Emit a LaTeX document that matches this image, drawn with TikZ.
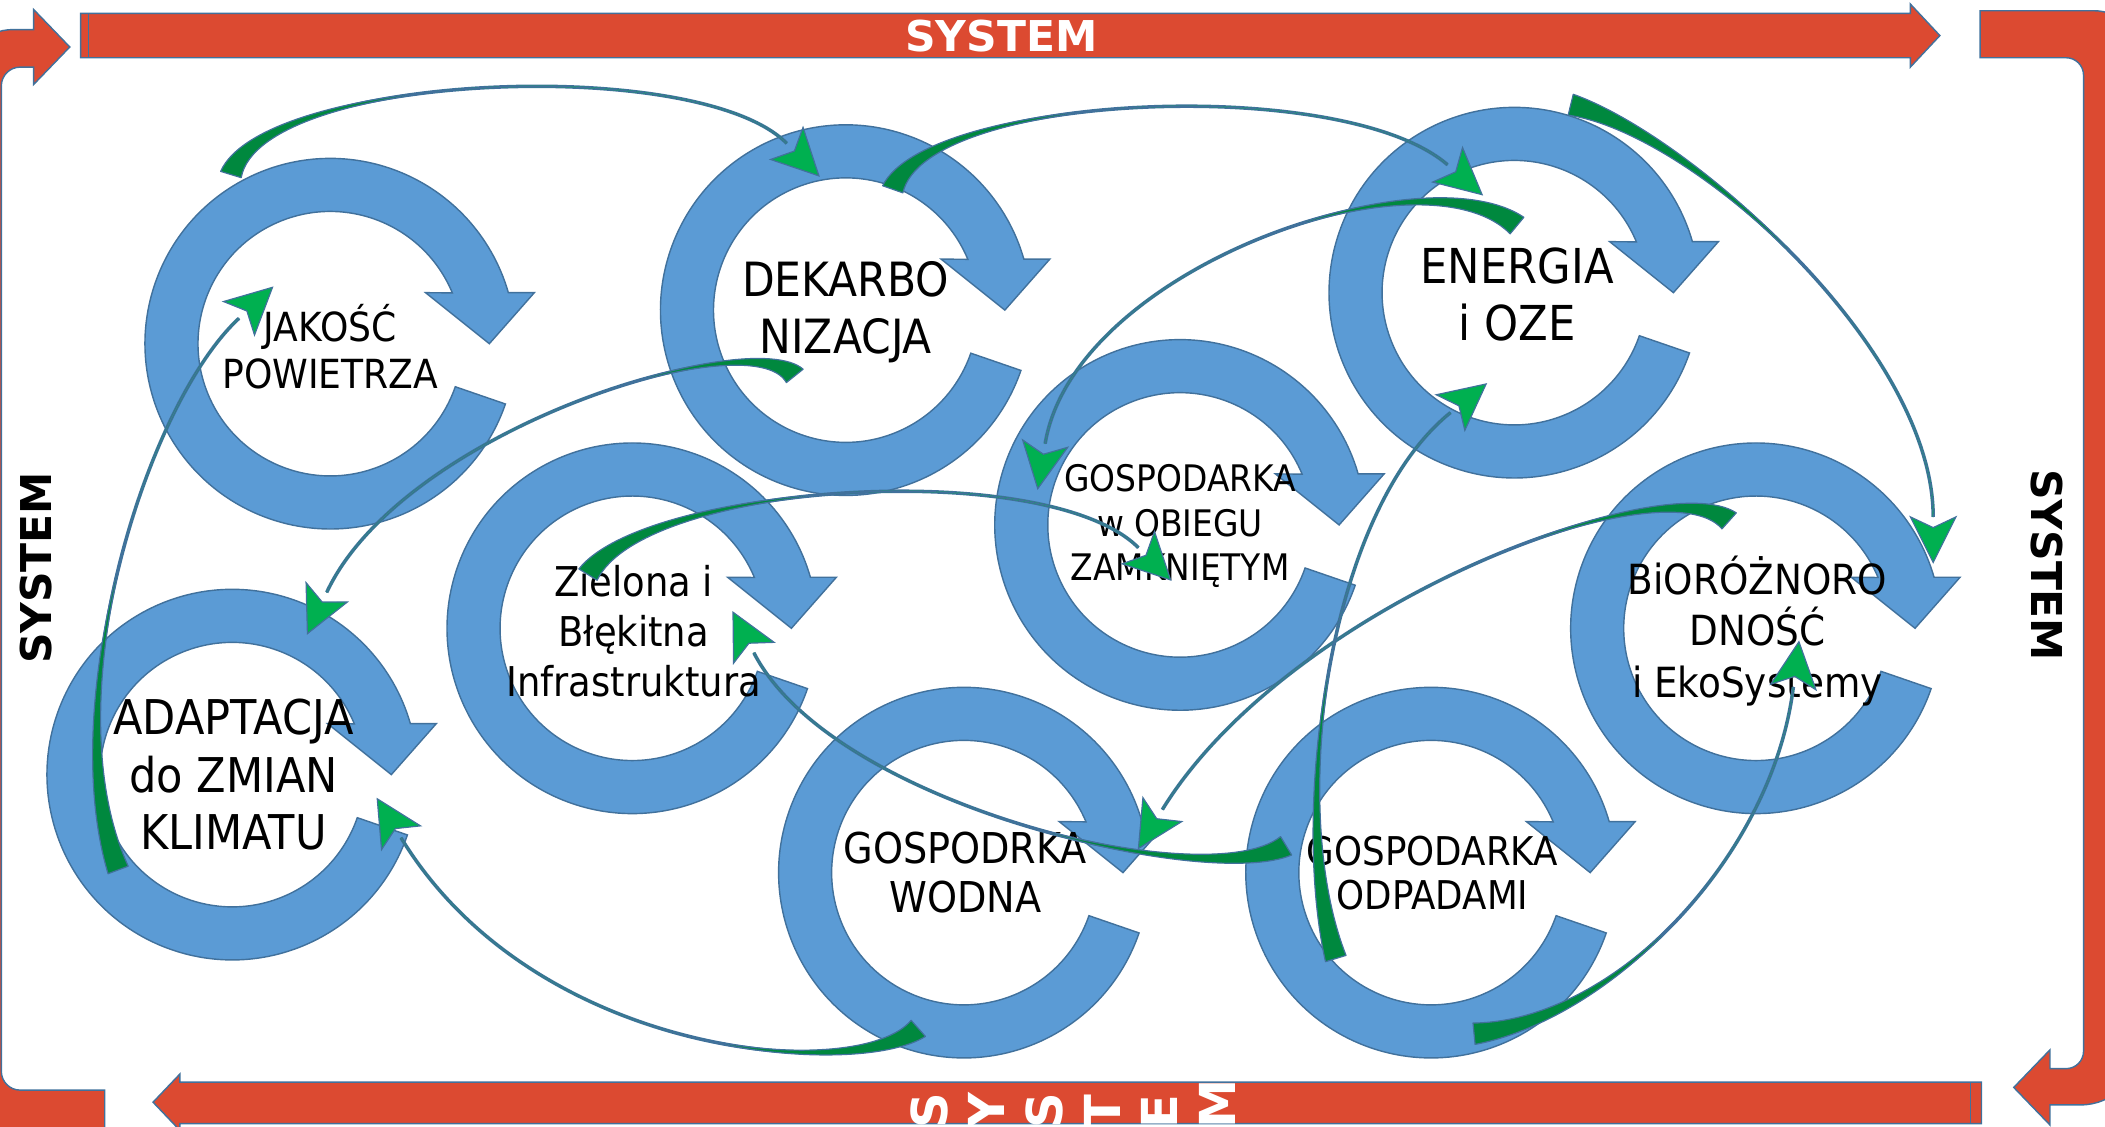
\documentclass[tikz,border=0pt]{standalone}
\usepackage{fontspec}
\setmainfont{DejaVu Sans}
\newfontfamily\labelfont{DejaVu Sans}[FakeStretch=0.9]
\usetikzlibrary{calc}

\definecolor{ringblue}{RGB}{91,155,213}
\definecolor{edgeblue}{RGB}{65,113,156}
\definecolor{sysred}{RGB}{220,74,49}
\definecolor{leaf}{RGB}{0,176,80}
\definecolor{leafdark}{RGB}{0,136,62}

\tikzset{
	ring/.style={fill=ringblue, draw=edgeblue, line width=0.6pt},
	band/.style={fill=sysred, draw=edgeblue, line width=0.6pt},
	ringtext/.style={align=center, inner sep=0pt},
	systext/.style={font=\bfseries\fontsize{18}{20}\selectfont, inner sep=0pt},
	linkband/.style={fill=leafdark, draw=edgeblue, line width=0.5pt, line join=round},
	linkhead/.style={fill=leaf, draw=edgeblue, line width=0.5pt},
}

% circular arrow round a centre
\newcommand{\cyclering}[1]{%
	\draw[ring, shift={(#1)}] (19:138) arc[start angle=19, end angle=344, radius=138]
		-- (152,-38) -- (118.5,0) -- (71,-38) -- (337.4:98.5)
		arc[start angle=337.4, end angle=19, radius=98.5] -- cycle;
}

% green link: name, tail, control 1, control 2, tip
\newcommand{\linkarrow}[5]{%
	\coordinate (#1e) at ($(#5)!6.8mm!(#4)$);
	\coordinate (#1a) at ($(#2)!1.6mm!90:(#3)$);
	\coordinate (#1b) at ($(#2)!1.6mm!-90:(#3)$);
	\draw[edgeblue, line width=1.5pt] (#2) .. controls (#3) and (#4) .. (#1e);
	\draw[leaf, line width=0.6pt] (#2) .. controls (#3) and (#4) .. (#1e);
	\draw[linkband] (#1a) .. controls ($(#3)-0.15*(#1a)+0.15*(#2)$) and (#4) .. (#1e)
		.. controls (#4) and ($(#3)-0.15*(#1b)+0.15*(#2)$) .. (#1b) -- cycle;
	\draw[linkhead] (#5) -- ($(#1e)!3.4mm!90:(#5)$) -- ($(#1e)!1.6mm!(#5)$)
		-- ($(#1e)!3.4mm!-90:(#5)$) -- cycle;
}

\begin{document}
\begin{tikzpicture}[x=0.2mm, y=-0.2mm]
	\clip (0,0) rectangle (1568,839);

	% frame
	\draw[band] (60,10) -- (1423,10) -- (1423,3) -- (1445,26.5) -- (1423,50) -- (1423,43) -- (60,43) -- cycle;
	\draw[edgeblue, line width=0.6pt] (66,10) -- (66,43);
	\draw[band] (1476,806) -- (134,806) -- (134,800) -- (114,821) -- (134,842) -- (134,837) -- (1476,837) -- cycle;
	\draw[edgeblue, line width=0.6pt] (1468,806) -- (1468,837);
	\draw[band] (78,812) -- (15,812) arc[start angle=90, end angle=180, radius=14] -- (1,64)
		arc[start angle=180, end angle=270, radius=14] -- (25,50) -- (25,63) -- (52,35) -- (25,7) -- (25,22)
		-- (10,22) arc[start angle=270, end angle=180, radius=40] -- (-30,805)
		arc[start angle=180, end angle=90, radius=40] -- (78,845) -- cycle;
	\draw[band] (1475,8) -- (1560,8) arc[start angle=270, end angle=360, radius=33] -- (1593,780)
		arc[start angle=0, end angle=90, radius=43] -- (1527,823) -- (1527,838) -- (1500,810) -- (1527,782)
		-- (1527,796) -- (1539,796) arc[start angle=90, end angle=0, radius=13] -- (1552,56)
		arc[start angle=0, end angle=-90, radius=13] -- (1475,43) -- cycle;

	\node[systext, text=white] (systop) at (746,27) {SYSTEM};
	\node[systext, rotate=90] (sysleft) at (27,423) {SYSTEM};
	\node[systext, rotate=-90] (sysright) at (1525,421) {SYSTEM};
	\foreach \ch [count=\i] in {S,Y,S,T,E,M}
		\node[systext, font=\bfseries\fontsize{21}{24}\selectfont, text=white, rotate=90, anchor=west]
			(sysbot\i) at ({692+43*(\i-1)},841) {\ch};

	% rings
	\coordinate (jak) at (246,256);
	\coordinate (dek) at (630,231);
	\coordinate (ene) at (1128,218);
	\coordinate (obi) at (879,391);
	\coordinate (zie) at (471,468);
	\coordinate (ada) at (173,577);
	\coordinate (wod) at (718,650);
	\coordinate (odp) at (1066,650);
	\coordinate (bio) at (1308,468);
	\foreach \c in {jak,dek,ene,obi,zie,ada,wod,odp,bio}
		\cyclering{\c};

	\node[ringtext, font=\labelfont\fontsize{17}{19.9}\selectfont] (jak-t) at (246,258.5) {JAKOŚĆ\\POWIETRZA};
	\node[ringtext, font=\labelfont\fontsize{20}{24.4}\selectfont] (dek-t) at (630,232.5) {DEKARBO\\NIZACJA};
	\node[ringtext, font=\labelfont\fontsize{20.4}{24.4}\selectfont] (ene-t) at (1130,219.5) {ENERGIA\\i OZE};
	\node[ringtext, font=\labelfont\fontsize{15.5}{18.8}\selectfont] (obi-t) at (879,392) {GOSPODARKA\\w OBIEGU\\ZAMKNIĘTYM};
	\node[ringtext, font=\labelfont\fontsize{17.4}{21.3}\selectfont] (zie-t) at (472,470) {Zielona i\\Błękitna\\Infrastruktura};
	\node[ringtext, font=\labelfont\fontsize{20.3}{24.2}\selectfont] (ada-t) at (174,577) {ADAPTACJA\\do ZMIAN\\KLIMATU};
	\node[ringtext, font=\labelfont\fontsize{18}{20.5}\selectfont] (wod-t) at (719,650) {GOSPODRKA\\WODNA};
	\node[ringtext, font=\labelfont\fontsize{16.8}{18.8}\selectfont] (odp-t) at (1067,650.5) {GOSPODARKA\\ODPADAMI};
	\node[ringtext, font=\labelfont\fontsize{17.6}{21.9}\selectfont] (bio-t) at (1309,470) {BiORÓŻNORO\\DNOŚĆ\\i EkoSystemy};

	% links between rings
	\coordinate (jak-out) at (172,130);   \coordinate (dek-in1) at (610,131);
	\coordinate (dek-out1) at (665,141);  \coordinate (ene-in1) at (1104,145);
	\coordinate (ene-out1) at (1130,168); \coordinate (obi-in1) at (773,364);
	\coordinate (zie-out) at (438,428);   \coordinate (obi-in2) at (872,432);
	\coordinate (dek-out2) at (592,280);  \coordinate (ada-in1) at (229,472);
	\coordinate (ada-out) at (88,648);    \coordinate (jak-in) at (203,214);
	\coordinate (wod-out) at (684,766);   \coordinate (ada-in2) at (281,595);
	\coordinate (odp-out1) at (958,630);  \coordinate (zie-in) at (546,456);
	\coordinate (bio-out) at (1288,388);  \coordinate (wod-in) at (848,632);
	\coordinate (odp-out2) at (995,714);  \coordinate (ene-in2) at (1107,286);
	\coordinate (odp-out3) at (1098,770); \coordinate (bio-in1) at (1340,478);
	\coordinate (ene-out2) at (1170,78);  \coordinate (bio-in2) at (1440,419);

	\linkarrow{l1}{jak-out}{195,55}{520,40}{dek-in1}
	\linkarrow{l2}{dek-out1}{690,70}{1000,55}{ene-in1}
	\linkarrow{l3}{ene-out1}{1060,110}{800,200}{obi-in1}
	\linkarrow{l4}{zie-out}{480,360}{780,340}{obi-in2}
	\linkarrow{l5}{dek-out2}{560,240}{300,320}{ada-in1}
	\linkarrow{l6}{ada-out}{40,520}{110,300}{jak-in}
	\linkarrow{l7}{wod-out}{640,805}{400,790}{ada-in2}
	\linkarrow{l8}{odp-out1}{900,665}{620,600}{zie-in}
	\linkarrow{l9}{bio-out}{1240,345}{960,450}{wod-in}
	\linkarrow{l10}{odp-out2}{960,600}{990,380}{ene-in2}
	\linkarrow{l11}{odp-out3}{1200,760}{1320,640}{bio-in1}
	\linkarrow{l12}{ene-out2}{1260,100}{1440,260}{bio-in2}
\end{tikzpicture}
\end{document}
